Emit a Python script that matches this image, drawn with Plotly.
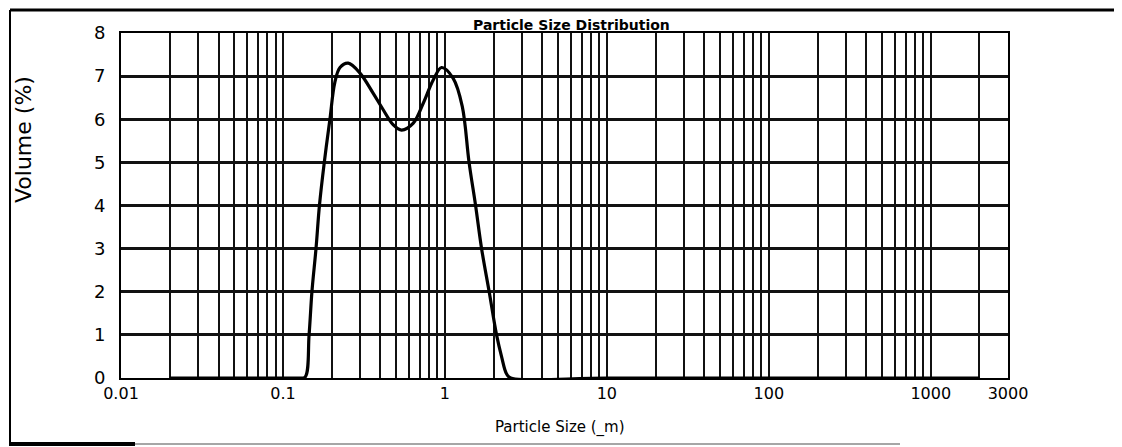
import plotly.graph_objects as go

# particle size (um) vs volume (%)
size_um = [0.02, 0.05, 0.1, 0.125, 0.137, 0.145, 0.151, 0.160, 0.168, 0.180,
           0.195, 0.209, 0.225, 0.253, 0.299, 0.361, 0.416, 0.48, 0.54, 0.638,
           0.735, 0.847, 0.954, 1.125, 1.28, 1.41, 1.547, 1.685, 1.877, 2.085,
           2.24, 2.4, 2.55, 10, 100, 1000, 2000]
volume = [0, 0, 0, 0, 0.02, 1.0, 2.0, 3.0, 4.0, 5.0,
          6.0, 6.85, 7.2, 7.30, 7.07, 6.6, 6.22, 5.87, 5.75, 5.91,
          6.37, 6.91, 7.2, 6.95, 6.3, 5.0, 4.0, 3.0, 2.0, 1.0,
          0.49, 0.1, 0, 0, 0, 0, 0]

# log grid lines (1..9 per decade) and the few that carry labels
grid_vals = [m * 10 ** e for e in range(-2, 3) for m in range(1, 10)] + [1000, 2000, 3000]
label_map = {0.01: '0.01', 0.1: '0.1', 1: '1', 10: '10', 100: '100', 1000: '1000', 3000: '3000'}
grid_text = [label_map.get(round(v, 6), '') for v in grid_vals]

FONT = 'DejaVu Sans, Liberation Sans, Arial, sans-serif'

# plot box as seen in the reference (page pixels); the page body adds ~8px
W, H = 1122, 447
OFF = 8
PL, PR, PT, PB = 121, 1008, 33, 378


def px(x):
    return (x - PL) / (PR - PL)


def py(y):
    return (PB - y) / (PB - PT)


fig = go.Figure()
fig.add_trace(
    go.Scatter(
        x=size_um,
        y=volume,
        mode='lines',
        line=dict(color='black', width=3.2, shape='spline', smoothing=1.0),
        hoverinfo='x+y'
    )
)

fig.update_layout(
    width=W,
    height=H,
    margin=dict(l=PL - OFF, r=W - (PR - OFF), t=PT - OFF, b=H - (PB - OFF), autoexpand=False),
    paper_bgcolor='white',
    plot_bgcolor='white',
    showlegend=False,
    font=dict(family=FONT, color='black'),
    annotations=[
        dict(
            text='<b>Particle Size Distribution</b>',
            xref='paper', yref='paper',
            x=px(571), y=py(25),
            xanchor='center', yanchor='middle',
            font=dict(size=14, color='black'),
            showarrow=False
        ),
        dict(
            text='Volume (%)',
            xref='paper', yref='paper',
            x=px(23), y=py(140),
            xanchor='center', yanchor='middle',
            textangle=-90,
            font=dict(size=22, color='black'),
            showarrow=False
        ),
        dict(
            text='Particle Size (_m)',
            xref='paper', yref='paper',
            x=px(560), y=py(427),
            xanchor='center', yanchor='middle',
            font=dict(size=15, color='black'),
            showarrow=False
        )
    ],
    shapes=[
        # scanned page frame
        dict(type='line', xref='paper', yref='paper',
             x0=px(10), x1=px(1116), y0=py(10), y1=py(10),
             line=dict(color='black', width=3)),
        dict(type='line', xref='paper', yref='paper',
             x0=px(10), x1=px(10), y0=py(10), y1=py(444),
             line=dict(color='black', width=2)),
        dict(type='line', xref='paper', yref='paper',
             x0=px(9), x1=px(135), y0=py(444), y1=py(444),
             line=dict(color='black', width=4)),
        dict(type='line', xref='paper', yref='paper',
             x0=px(135), x1=px(900), y0=py(444), y1=py(444),
             line=dict(color='#888888', width=1.5))
    ]
)

fig.update_xaxes(
    type='log',
    range=[-2, 3.4771],
    tickvals=grid_vals,
    ticktext=grid_text,
    ticks='',
    tickfont=dict(size=16, color='black'),
    showgrid=True,
    gridcolor='#111111',
    gridwidth=2,
    showline=True,
    linecolor='black',
    linewidth=2,
    mirror=True,
    zeroline=False
)
fig.update_yaxes(
    range=[0, 8],
    dtick=1,
    ticks='',
    ticklabelstandoff=10,
    tickfont=dict(size=18, color='black'),
    showgrid=True,
    gridcolor='#111111',
    gridwidth=2.5,
    showline=True,
    linecolor='black',
    linewidth=2,
    mirror=True,
    zeroline=False
)

fig.write_html('out.html')
